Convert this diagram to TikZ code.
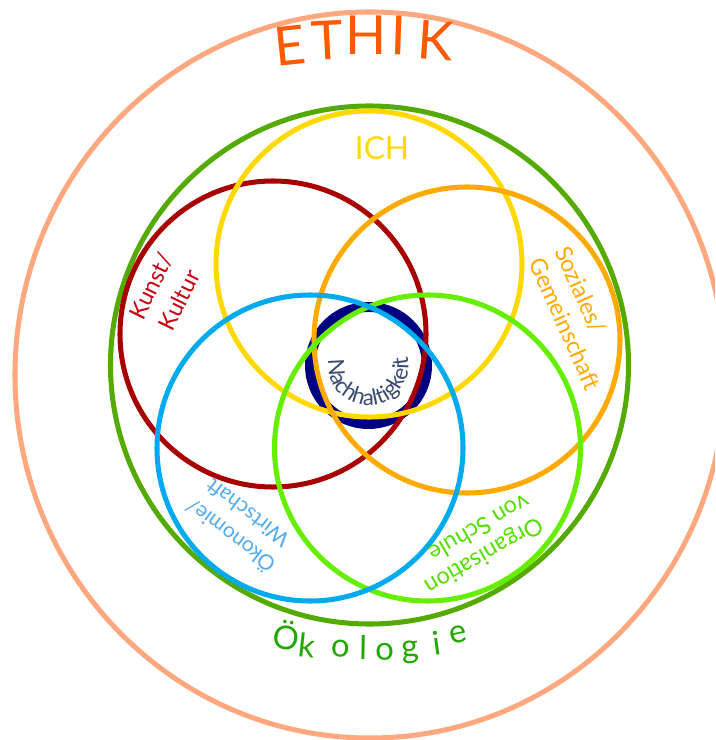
\documentclass[tikz,border=0pt]{standalone}
\usepackage{fontspec}
\setmainfont{Lato}
\usetikzlibrary{calc,decorations.text}
\definecolor{ethikline}{HTML}{FFA880}
\definecolor{ethiktext}{HTML}{FF5A00}
\definecolor{oekoline}{HTML}{55AA00}
\definecolor{oekotext}{HTML}{22A800}
\definecolor{ich}{HTML}{FFD800}
\definecolor{kunst}{HTML}{A80000}
\definecolor{kunsttext}{HTML}{C80010}
\definecolor{sozial}{HTML}{FFAA00}
\definecolor{wirtschaft}{HTML}{00AAEE}
\definecolor{wirtschafttext}{HTML}{55AAEE}
\definecolor{schule}{HTML}{66EE00}
\definecolor{schuletext}{HTML}{55DD00}
\definecolor{kern}{HTML}{000080}
\definecolor{kerntext}{HTML}{3A4A70}

\begin{document}
\begin{tikzpicture}[x=0.03cm,y=-0.03cm,ring/.style={line width=4.3pt},thema/.style={align=center,inner sep=0pt,font=\fontsize{20}{25}\selectfont}]
	\clip (0,0) rectangle (715,740);
	\coordinate (ethik) at (370,375);
	\coordinate (oeko) at (369.5,365);
	\coordinate (core) at (368.5,365.5);
	\coordinate (ich) at (369,264);
	\coordinate (kunst) at (273,334);
	\coordinate (sozial) at (467,340);
	\coordinate (wirtschaft) at (310,448);
	\coordinate (schule) at (427.5,448);
	\draw[ring,ethikline] (ethik) ellipse[x radius=355,y radius=363];
	\draw[ring,oekoline] (oeko) circle[radius=259];
	\draw[line width=8.5pt,kern] (core) circle[radius=58.5];
	\draw[ring,kunst] (kunst) circle[radius=153];
	\draw[ring,ich] (ich) circle[radius=153];
	\draw[ring,sozial] (sozial) circle[radius=153];
	\draw[ring,schule] (schule) circle[radius=153];
	\draw[ring,wirtschaft] (wirtschaft) circle[radius=153];
	\foreach \l/\x/\y/\r [count=\i] in {E/292/65/6,T/328/60/3,H/366/55/0,I/398/55/-2,K/434/60/-4} \node[anchor=base,rotate=\r,inner sep=0pt,text=ethiktext,font=\fontsize{46}{46}\selectfont] (ethik\i) at (\x,\y) {\l};
	\foreach \l/\x/\y/\r [count=\i] in {Ö/284/650/-9,k/306/657/-6,o/340/657/-3,l/363/660/-1,o/385/660/2,g/411/658/5,i/438/655/8,e/460/643/12} \node[anchor=base,rotate=\r,inner sep=0pt,text=oekotext,font=\fontsize{28}{28}\selectfont] (oeko\i) at (\x,\y) {\l};
	\node[thema,text=ich,font=\fontsize{27}{27}\selectfont] (ichlabel) at (382,148) {ICH};
	\node[thema,rotate=64,text=kunsttext,font=\fontsize{20}{27}\selectfont] (kunstlabel) at (165,293) {Kunst/\\Kultur};
	\node[thema,rotate=-66,align=left,text=sozial,font=\fontsize{20}{24}\selectfont] (soziallabel) at (578,318) {Soziales/\\Gemeinschaft};
	\node[thema,rotate=143,text=wirtschafttext,font=\fontsize{18}{24}\selectfont] (wirtschaftlabel) at (238,526) {Ökonomie/\\Wirtschaft};
	\node[thema,rotate=210,align=left,text=schuletext,font=\fontsize{20}{23}\selectfont] (schulelabel) at (478,545) {Organisation\\von Schule};
	\path[decorate,decoration={text along path,text align=center,text={|\fontsize{19}{19}\selectfont\color{kerntext}|Nachhaltigkeit}}] ($(core)+(-163:40)$) arc[start angle=-163,end angle=-381,radius=40];
\end{tikzpicture}
\end{document}
